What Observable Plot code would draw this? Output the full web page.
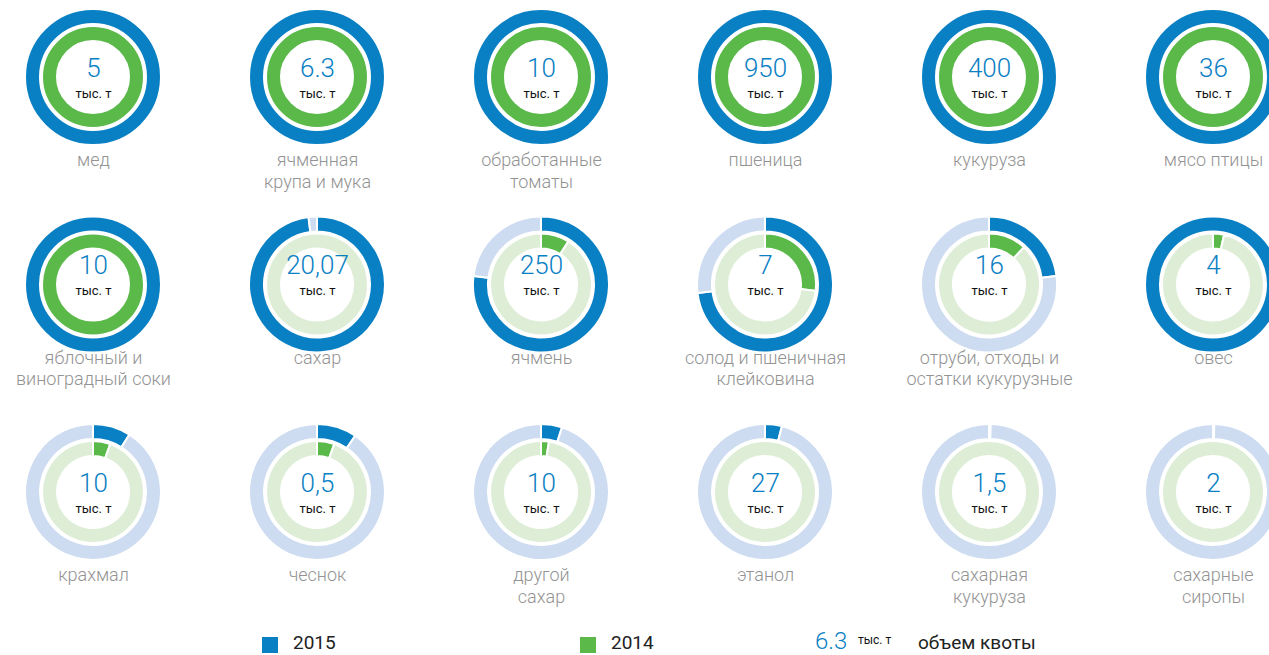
<!DOCTYPE html>
<html>
<head>
<meta charset="utf-8">
<script src="https://cdn.jsdelivr.net/npm/d3@7"></script>
<script src="https://cdn.jsdelivr.net/npm/@observablehq/plot@0.6"></script>
<style>
  body { margin: 0; background: #fff; font-family: Roboto, "Liberation Sans", sans-serif; }
  #wrap { position: relative; width: 1269px; height: 655px; overflow: hidden; }
  #legend { position: absolute; left: 0; top: 632px; width: 1269px; height: 22px; }
  .sw { position: absolute; top: 5px; width: 16px; height: 16px; }
  .lt { position: absolute; top: 0; line-height: 22px; font-size: 19px; color: #222; white-space: nowrap; }
</style>
</head>
<body>
<div id="wrap">
  <div id="chart"></div>
  <div id="legend"></div>
</div>
<script>
// ---- data ----
const categories = [
  "мед", "ячменная\nкрупа и мука", "обработанные\nтоматы", "пшеница", "кукуруза", "мясо птицы",
  "яблочный и\nвиноградный соки", "сахар", "ячмень", "солод и пшеничная\nклейковина", "отруби, отходы и\nостатки кукурузные", "овес",
  "крахмал", "чеснок", "другой\nсахар", "этанол", "сахарная\nкукуруза", "сахарные\nсиропы"
];
const quotas = ["5", "6.3", "10", "950", "400", "36", "10", "20,07", "250", "7", "16", "4", "10", "0,5", "10", "27", "1,5", "2"];
// share of the quota used in 2015 (outer ring) and 2014 (inner ring)
const share2015 = [1, 1, 1, 1, 1, 1, 1, 0.98, 0.77, 0.73, 0.23, 1, 0.09, 0.095, 0.05, 0.04, 0.004, 0.003];
const share2014 = [1, 1, 1, 1, 1, 1, 1, 0, 0.09, 0.27, 0.12, 0.035, 0.055, 0.055, 0.025, 0, 0, 0];
const years = ["2015", "2014"];
const unitLabel = "тыс. т";
const legendQuotaValue = "6.3";
const legendQuotaText = "объем квоты";

// ---- styles ----
const BLUE = "#0a80c4", LIGHTBLUE = "#cddcf0";
const GREEN = "#5bb94a", LIGHTGREEN = "#deeed6";

const donuts = categories.map((name, i) => ({
  name, quota: quotas[i], s15: share2015[i], s14: share2014[i],
  col: i % 6, row: Math.floor(i / 6)
}));

function ring(g, f, r0, r1, on, off) {
  const arc = d3.arc().innerRadius(r0).outerRadius(r1);
  const TAU = 2 * Math.PI;
  const parts = [];
  if (f >= 1) parts.push([0, TAU, on]);
  else if (f <= 0) parts.push([0, TAU, off]);
  else { parts.push([0, f * TAU, on]); parts.push([f * TAU, TAU, off]); }
  for (const [a0, a1, c] of parts) {
    g.append("path")
      .attr("d", arc({startAngle: a0, endAngle: a1}))
      .attr("fill", c)
      .attr("stroke", "#fff")
      .attr("stroke-width", 2);
  }
}

function donutArcs(index, scales) {
  const g = d3.create("svg:g");
  for (const d of donuts) {
    const gg = g.append("g").attr("transform", `translate(${scales.x(d.col)},${scales.y(d.row)})`);
    ring(gg, d.s15, 53, 68, BLUE, LIGHTBLUE);
    ring(gg, d.s14, 36, 51, GREEN, LIGHTGREEN);
  }
  return g.node();
}

// row spacing: the middle row sits a little higher
const rowSpacing = [0, 0.95, 2];

const chart = Plot.plot({
  width: 1269,
  height: 628,
  margin: 0,
  x: {domain: [0, 5], range: [93, 1213], axis: null},
  y: {domain: [0, 2], range: [77, 492], axis: null, transform: (r) => rowSpacing[r]},
  style: {fontFamily: "Roboto, 'Liberation Sans', sans-serif", background: "#fff"},
  marks: [
    donutArcs,
    Plot.text(donuts, {x: "col", y: "row", text: "quota", dy: -9, fontSize: 26, fontWeight: 300, fill: BLUE}),
    Plot.text(donuts, {x: "col", y: "row", text: () => unitLabel, dy: 16, fontSize: 13, fill: "#111"}),
    Plot.text(donuts, {x: "col", y: "row", text: "name", lineAnchor: "top", dy: 74, fontSize: 18, fontWeight: 300, lineHeight: 1.17, fill: "#939393"})
  ]
});
document.getElementById("chart").appendChild(chart);

// ---- legend ----
const legend = document.getElementById("legend");
const colors = [BLUE, GREEN];
const swLeft = [262, 580];
years.forEach((y, i) => {
  const s = document.createElement("div");
  s.className = "sw"; s.style.left = swLeft[i] + "px"; s.style.background = colors[i];
  legend.appendChild(s);
  const t = document.createElement("div");
  t.className = "lt"; t.style.left = (swLeft[i] + 31) + "px"; t.textContent = y;
  legend.appendChild(t);
});
const q = document.createElement("div");
q.className = "lt"; q.style.left = "815px"; q.style.fontSize = "24px"; q.style.fontWeight = "300"; q.style.color = BLUE; q.style.top = "-2px";
q.textContent = legendQuotaValue; legend.appendChild(q);
const u = document.createElement("div");
u.className = "lt"; u.style.left = "858px"; u.style.fontSize = "12px"; u.style.color = "#111"; u.style.top = "-3px";
u.textContent = unitLabel; legend.appendChild(u);
const qt = document.createElement("div");
qt.className = "lt"; qt.style.left = "918px";
qt.textContent = legendQuotaText; legend.appendChild(qt);
</script>
</body>
</html>
